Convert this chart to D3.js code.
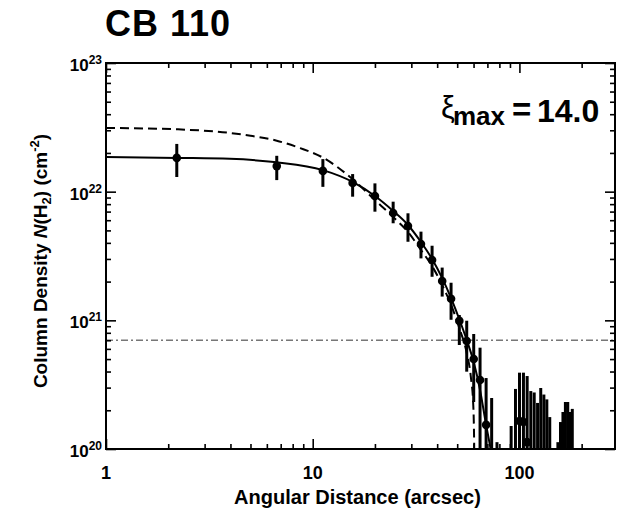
<!DOCTYPE html>
<html>
<head>
<meta charset="utf-8">
<script src="https://cdn.jsdelivr.net/npm/d3@7"></script>
<style>
body { margin: 0; background: #fff; }
text { font-family: "Liberation Sans", Arial, Helvetica, sans-serif; font-weight: bold; fill: #000; }
</style>
</head>
<body>
<div id="plot-container"></div>
<script>
// observed annuli (arcsec) and column density, null = point below the axis
const radius = [2.2, 6.7, 11.2, 15.6, 20.0, 24.5, 28.9, 33.4, 37.8, 42.3, 46.7, 51.2, 55.6, 60.1, 64.5, 69.0,
                73.4, 77.9, 91.2, 95.7, 100.1, 104.6, 109.0, 113.5, 117.9, 122.4, 126.8, 131.3, 135.7, 140.2,
                153.5, 158.0, 162.4, 166.9, 171.3, 175.8, 180.2];
const colDen = [1.83e22, 1.58e22, 1.45e22, 1.17e22, 9.25e21, 6.82e21, 5.41e21, 3.92e21, 2.94e21, 2.02e21, 1.47e21, 9.9e20, 6.9e20, 5.0e20, 3.44e20, 1.54e20,
                null, null, null, null, 1.65e20, 1.62e20, 1.13e20, null, null, null, null, null, null, null,
                null, null, null, null, null, null, null];
const errHi = [2.35e22, 1.90e22, 1.79e22, 1.37e22, 1.16e22, 8.36e21, 6.79e21, 4.89e21, 3.80e21, 2.57e21, 1.96e21, 1.10e21, 9.93e20, 7.83e20, 6.13e20, 3.56e20,
               2.49e20, 1.13e20, 1.51e20, 2.93e20, 3.92e20, 3.92e20, 3.69e20, 2.82e20, 2.75e20, 2.28e20, 2.98e20, 2.65e20, 2.43e20, 1.77e20,
               1.13e20, 1.62e20, 1.94e20, 2.32e20, 2.32e20, 1.94e20, 2.05e20];
// lower end of error bar, null = runs off the bottom
const errLo = [1.30e22, 1.23e22, 1.09e22, 9.14e21, 6.99e21, 5.68e21, 4.08e21, 3.03e21, 2.18e21, 1.53e21, 1.01e21, 6.43e20, 3.99e20, 2.32e20, null, null,
               null, null, null, null, null, null, null, null, null, null, null, null, null, null,
               null, null, null, null, null, null, null];

// beam-convolved fit (solid)
const fitR = [1, 2.23, 3.97, 6.7, 11.2, 15.6, 20.0, 24.5, 28.9, 33.4, 37.8, 42.3, 46.7, 51.2, 55.6, 60.1, 64.5, 69.0, 72.5, 74];
const fitN = [1.86e22, 1.83e22, 1.80e22, 1.69e22, 1.47e22, 1.19e22, 9.25e21, 7.08e21, 5.51e21, 4.06e21, 3.00e21, 2.13e21, 1.49e21, 1.02e21, 7.03e20, 4.74e20, 2.87e20, 1.54e20, 1.0e20, 8e19];

// Bonnor-Ebert model (dashed)
const beR = [1, 2.23, 3.97, 5.0, 6.7, 8.7, 11.2, 15.6, 20.0, 24.5, 28.9, 33.4, 37.8, 42.3, 46.7, 51.2, 55.6, 58.3, 59.8, 60.4, 60.6];
const beN = [3.13e22, 3.05e22, 2.86e22, 2.72e22, 2.49e22, 2.18e22, 1.84e22, 1.25e22, 8.61e21, 6.35e21, 4.86e21, 3.52e21, 2.64e21, 1.88e21, 1.32e21, 8.71e20, 5.57e20, 3.56e20, 2.2e20, 1.1e20, 5e19];

const bgLevel = 7e20;

const xMajor = [1, 10, 100];
const yMajor = [1e20, 1e21, 1e22, 1e23];
const yExp = ["20", "21", "22", "23"];

margin = {top: 63, right: 2, bottom: 67, left: 106},
    width = 617 - margin.left - margin.right,
    height = 516 - margin.top - margin.bottom;

const root = d3.select("#plot-container")
  .append("svg")
    .attr("width", 617)
    .attr("height", 516);

svg = root.append("g")
    .attr("transform", "translate(" + margin.left + "," + margin.top + ")");

const x = d3.scaleLog().domain([1, 290]).range([0, width]);
const y = d3.scaleLog().domain([1e20, 1e23]).range([height, 0]);

const xMinor = x.ticks().filter(v => !xMajor.includes(v));
const yMinor = y.ticks().filter(v => !yMajor.includes(v));

svg.append("clipPath").attr("id", "clip")
  .append("rect").attr("width", width).attr("height", height);

const plot = svg.append("g").attr("clip-path", "url(#clip)");

// background level
plot.append("line")
    .attr("x1", 0).attr("x2", width)
    .attr("y1", y(bgLevel)).attr("y2", y(bgLevel))
    .attr("stroke", "#777")
    .attr("stroke-width", 1.5)
    .attr("stroke-dasharray", "7,3,2,3");

const line = d3.line()
    .x(d => x(d[0]))
    .y(d => y(d[1]))
    .curve(d3.curveMonotoneX);

plot.append("path")
    .attr("d", line(beR.map((r, i) => [r, beN[i]])))
    .attr("fill", "none")
    .attr("stroke", "#000")
    .attr("stroke-width", 2)
    .attr("stroke-dasharray", "9,5");

plot.append("path")
    .attr("d", line(fitR.map((r, i) => [r, fitN[i]])))
    .attr("fill", "none")
    .attr("stroke", "#000")
    .attr("stroke-width", 2);

// error bars
plot.selectAll(".err")
  .data(radius)
  .enter()
  .append("line")
    .attr("class", "err")
    .attr("x1", d => x(d)).attr("x2", d => x(d))
    .attr("y1", (d, i) => y(errHi[i]))
    .attr("y2", (d, i) => errLo[i] === null ? height + 5 : y(errLo[i]))
    .attr("stroke", "#000")
    .attr("stroke-width", 3);

plot.selectAll(".dot")
  .data(radius.filter((d, i) => colDen[i] !== null))
  .enter()
  .append("circle")
    .attr("class", "dot")
    .attr("cx", d => x(d))
    .attr("cy", d => y(colDen[radius.indexOf(d)]))
    .attr("r", 4.3)
    .attr("fill", "#000");

// axes, ticks pointing inward on all four sides
function tickAxis(axisFn, scale, vals, size, transform) {
    const g = svg.append("g")
        .attr("transform", transform)
        .call(axisFn(scale).tickValues(vals).tickSize(-size).tickFormat(""));
    g.select(".domain").remove();
    g.selectAll("line").attr("stroke-width", 1.6);
}
tickAxis(d3.axisBottom, x, xMajor, 10, `translate(0,${height})`);
tickAxis(d3.axisBottom, x, xMinor, 5, `translate(0,${height})`);
tickAxis(d3.axisTop, x, xMajor, 10, "translate(0,0)");
tickAxis(d3.axisTop, x, xMinor, 5, "translate(0,0)");
tickAxis(d3.axisLeft, y, yMajor, 10, "translate(0,0)");
tickAxis(d3.axisLeft, y, yMinor, 5, "translate(0,0)");
tickAxis(d3.axisRight, y, yMajor, 10, `translate(${width},0)`);
tickAxis(d3.axisRight, y, yMinor, 5, `translate(${width},0)`);

svg.append("rect")
    .attr("width", width).attr("height", height)
    .attr("fill", "none")
    .attr("stroke", "#000")
    .attr("stroke-width", 2);

// tick labels
svg.selectAll(".xlab")
  .data(xMajor)
  .enter()
  .append("text")
    .attr("x", d => x(d))
    .attr("y", height + 30)
    .attr("text-anchor", "middle")
    .style("font-size", "18px")
    .text(d => d);

const ylab = svg.selectAll(".ylab")
  .data(yMajor)
  .enter()
  .append("text")
    .attr("x", -4)
    .attr("y", d => y(d) + 8)
    .attr("text-anchor", "end")
    .style("font-size", "17px");
ylab.append("tspan").text("10");
ylab.append("tspan")
    .attr("dy", -7)
    .style("font-size", "12px")
    .text((d, i) => yExp[i]);

// axis titles
svg.append("text")
    .attr("text-anchor", "middle")
    .attr("x", width / 2 - 3)
    .attr("y", height + 55)
    .style("font-size", "20px")
    .text("Angular Distance (arcsec)");

const yt = svg.append("text")
    .attr("text-anchor", "middle")
    .attr("transform", "rotate(-90)")
    .attr("x", -198)
    .attr("y", -59)
    .style("font-size", "19px");
yt.append("tspan").text("Column Density ");
yt.append("tspan").style("font-style", "italic").text("N");
yt.append("tspan").text("(H");
yt.append("tspan").attr("dy", 4).style("font-size", "13px").text("2");
yt.append("tspan").attr("dy", -4).text(") (cm");
yt.append("tspan").attr("dy", -8).style("font-size", "13px").text("-2");
yt.append("tspan").attr("dy", 8).text(")");

// title
root.append("text")
    .attr("x", 105)
    .attr("y", 36)
    .style("font-size", "36px")
    .style("letter-spacing", "1px")
    .text("CB 110");

// xi_max annotation
root.append("text")
    .attr("x", 441).attr("y", 118)
    .style("font-weight", "normal")
    .style("font-size", "31px")
    .text("ξ");
root.append("text")
    .attr("x", 453).attr("y", 125)
    .style("font-size", "26px")
    .text("max");
root.append("text")
    .attr("x", 512).attr("y", 121)
    .style("font-size", "33px")
    .text("=");
root.append("text")
    .attr("x", 537).attr("y", 122)
    .style("font-size", "32px")
    .text("14.0");
</script>
</body>
</html>
